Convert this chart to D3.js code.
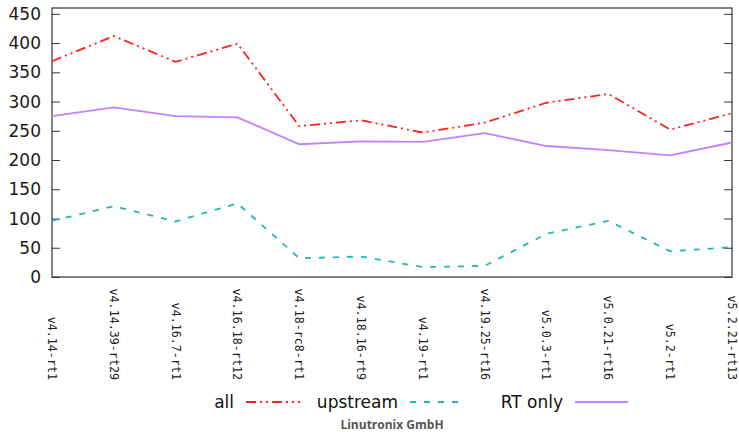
<!DOCTYPE html>
<html>
<head>
<meta charset="utf-8">
<script src="https://cdn.jsdelivr.net/npm/d3@7"></script>
<style>
  body { margin: 0; background: #fff; }
</style>
</head>
<body>
<div id="chart"></div>
<script>
// kernel versions along the x axis
var versions = ["v4.14-rt1", "v4.14.39-rt29", "v4.16.7-rt1", "v4.16.18-rt12",
                "v4.18-rc8-rt1", "v4.18.16-rt9", "v4.19-rt1", "v4.19.25-rt16",
                "v5.0.3-rt1", "v5.0.21-rt16", "v5.2-rt1", "v5.2.21-rt13"];

// series values
var allValues      = [369, 412, 368, 399, 258, 268, 247, 264, 298, 313, 252, 280];
var upstreamValues = [96, 121, 95, 126, 32, 35, 17, 19, 74, 96, 44, 51];
var rtOnlyValues   = [275, 290, 275, 273, 227, 232, 231, 246, 224, 217, 208, 230];

var yTicks = [0, 50, 100, 150, 200, 250, 300, 350, 400, 450];

var svgWidth  = 739;
var svgHeight = 432;
var plotLeft = 52, plotRight = 732, plotTop = 8, plotBottom = 277;

var svg = d3.select("#chart")
            .append("svg")
            .attr("width", svgWidth)
            .attr("height", svgHeight);

var xScale = d3.scalePoint()
               .domain(versions)
               .range([plotLeft, plotRight]);

var yScale = d3.scaleLinear()
               .domain([0, 460])
               .range([plotBottom, plotTop]);

// left axis with ticks pointing into the plot
var yAxisGroup = svg.append("g")
    .attr("transform", "translate(" + plotLeft + ",0)")
    .call(d3.axisRight(yScale).tickValues(yTicks).tickSize(8).tickFormat(""));
yAxisGroup.select(".domain").remove();
yAxisGroup.selectAll("line").attr("stroke", "#333");

// mirrored ticks on the right side
var yAxisRight = svg.append("g")
    .attr("transform", "translate(" + plotRight + ",0)")
    .call(d3.axisLeft(yScale).tickValues(yTicks).tickSize(8).tickFormat(""));
yAxisRight.select(".domain").remove();
yAxisRight.selectAll("line").attr("stroke", "#333");

// y tick labels
svg.append("g")
    .selectAll("text")
    .data(yTicks)
    .enter()
    .append("text")
      .attr("x", plotLeft - 11)
      .attr("y", function(d) { return yScale(d); })
      .attr("dy", "0.36em")
      .attr("text-anchor", "end")
      .attr("font-family", "DejaVu Sans, sans-serif")
      .attr("font-size", 17)
      .attr("fill", "#1a1a1a")
      .text(function(d) { return d; });

// frame around the plot
svg.append("rect")
    .attr("x", plotLeft)
    .attr("y", plotTop)
    .attr("width", plotRight - plotLeft)
    .attr("height", plotBottom - plotTop)
    .attr("fill", "none")
    .attr("stroke", "#333")
    .attr("stroke-width", 1.2);

// rotated x labels, reading top to bottom, ending at the same line
svg.append("g")
    .selectAll("text")
    .data(versions)
    .enter()
    .append("text")
      .attr("transform", function(d) { return "translate(" + xScale(d) + ",380) rotate(90)"; })
      .attr("text-anchor", "end")
      .attr("dy", "0.35em")
      .attr("font-family", "DejaVu Sans Mono, monospace")
      .attr("font-size", 11.7)
      .attr("fill", "#222")
      .text(function(d) { return d; });

var series = [
  { name: "all",      values: allValues,      color: "#ff2020", dash: "10,4,2,4,2,4" },
  { name: "upstream", values: upstreamValues, color: "#20b8b8", dash: "6,8" },
  { name: "RT only",  values: rtOnlyValues,   color: "#c080ff", dash: null }
];

var line = d3.line()
    .x(function(d, i) { return xScale(versions[i]); })
    .y(function(d) { return yScale(d); });

svg.append("g")
    .selectAll("path")
    .data(series)
    .enter()
    .append("path")
      .attr("d", function(d) { return line(d.values); })
      .attr("fill", "none")
      .attr("stroke", function(d) { return d.color; })
      .attr("stroke-width", 1.8)
      .attr("stroke-dasharray", function(d) { return d.dash; });

// legend
var legendItems = [
  { textEnd: 234, lineStart: 246, lineEnd: 300 },
  { textEnd: 398, lineStart: 410, lineEnd: 460 },
  { textEnd: 563, lineStart: 575, lineEnd: 628 }
];

var legend = svg.append("g")
    .selectAll("g")
    .data(series)
    .enter()
    .append("g");

legend.append("text")
    .attr("x", function(d, i) { return legendItems[i].textEnd; })
    .attr("y", 402)
    .attr("dy", "0.35em")
    .attr("text-anchor", "end")
    .attr("font-family", "DejaVu Sans, sans-serif")
    .attr("font-size", 17)
    .attr("fill", "#111")
    .text(function(d) { return d.name; });

legend.append("line")
    .attr("x1", function(d, i) { return legendItems[i].lineStart; })
    .attr("x2", function(d, i) { return legendItems[i].lineEnd; })
    .attr("y1", 402)
    .attr("y2", 402)
    .attr("stroke", function(d) { return d.color; })
    .attr("stroke-width", 1.8)
    .attr("stroke-dasharray", function(d) { return d.dash; });

// footer
svg.append("text")
    .attr("x", 392)
    .attr("y", 429)
    .attr("text-anchor", "middle")
    .attr("font-family", "Open Sans, sans-serif")
    .attr("font-weight", "bold")
    .attr("font-size", 12)
    .attr("fill", "#555")
    .text("Linutronix GmbH");
</script>
</body>
</html>
